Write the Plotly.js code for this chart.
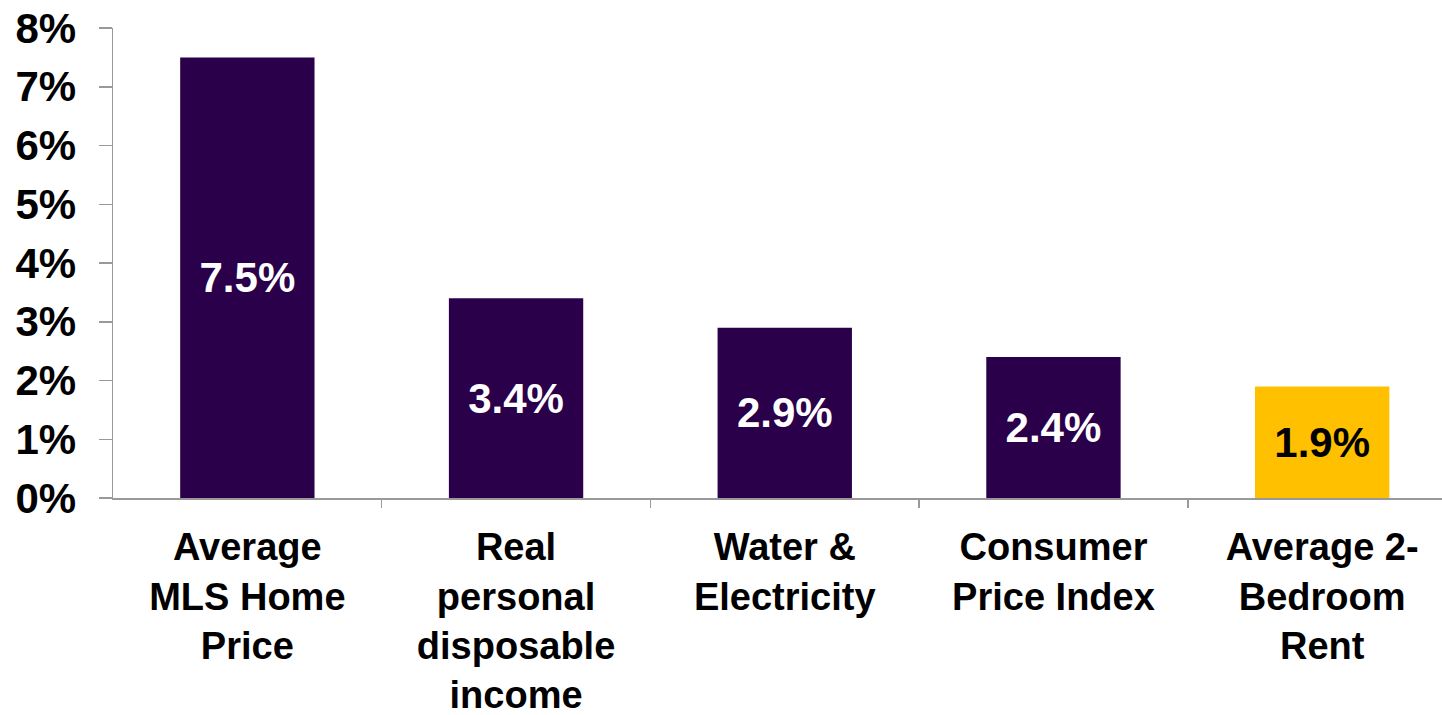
<!DOCTYPE html>
<html>
<head>
<meta charset="utf-8">
<script src="https://cdn.plot.ly/plotly-3.0.1.min.js"></script>
<style>html,body{margin:0;padding:0;background:#fff;}#chart{width:1442px;height:715px;}</style>
</head>
<body>
<div id="chart"></div>
<script>
var categories = ["Average<br>MLS Home<br>Price", "Real<br>personal<br>disposable<br>income", "Water &<br>Electricity", "Consumer<br>Price Index", "Average 2-<br>Bedroom<br>Rent"];
var values = [7.5, 3.4, 2.9, 2.4, 1.9];
var labels = ["7.5%", "3.4%", "2.9%", "2.4%", "1.9%"];
var barColors = ["#2A004A", "#2A004A", "#2A004A", "#2A004A", "#FFC000"];
var textColors = ["#FFFFFF", "#FFFFFF", "#FFFFFF", "#FFFFFF", "#000000"];
var yTickVals = [0, 1, 2, 3, 4, 5, 6, 7, 8];
var yTickText = ["0%", "1%", "2%", "3%", "4%", "5%", "6%", "7%", "8%"];

var trace = {
  type: "bar",
  x: [0, 1, 2, 3, 4],
  y: values,
  text: labels,
  textposition: "inside",
  insidetextanchor: "middle",
  textangle: 0,
  textfont: {family: "Liberation Sans, Arial, sans-serif", size: 42, color: textColors, weight: "bold"},
  marker: {color: barColors, line: {width: 0}},
  hoverinfo: "none",
  cliponaxis: false
};

var layout = {
  width: 1442, height: 715,
  margin: {l: 113, r: 0, t: 28, b: 217, autoexpand: false},
  paper_bgcolor: "#fff", plot_bgcolor: "#fff",
  showlegend: false,
  bargap: 0.5,
  font: {family: "Liberation Sans, Arial, sans-serif", color: "#000"},
  xaxis: {
    type: "linear",
    range: [-0.5, 4.446],
    tickmode: "array",
    tickvals: [0, 1, 2, 3, 4],
    ticktext: categories,
    showgrid: false, zeroline: false,
    showline: true, linecolor: "#999999", linewidth: 1.5,
    ticks: "",
    tickfont: {size: 38, color: "#000", weight: "bold"},
    ticklabelstandoff: 15,
    automargin: false
  },
  yaxis: {
    range: [0, 8],
    tickmode: "array",
    tickvals: yTickVals,
    ticktext: yTickText,
    showgrid: false, zeroline: false,
    showline: true, linecolor: "#999999", linewidth: 1.5,
    ticks: "outside", ticklen: 13, tickcolor: "#999999", tickwidth: 1.5,
    tickfont: {size: 42, color: "#000", weight: "bold"},
    ticklabelstandoff: 14,
    automargin: false
  },
  xaxis2: {
    overlaying: "x",
    matches: "x",
    range: [-0.5, 4.446],
    tickmode: "array",
    tickvals: [0.5, 1.5, 2.5, 3.5, 4.5],
    ticks: "outside", ticklen: 9, tickcolor: "#999999", tickwidth: 1.5,
    showticklabels: false, showgrid: false, zeroline: false, showline: false,
    anchor: "y", side: "bottom"
  }
};
var tickTrace = {type: "scatter", x: [], y: [], xaxis: "x2", yaxis: "y", hoverinfo: "none"};

Plotly.newPlot("chart", [trace, tickTrace], layout, {displayModeBar: false, staticPlot: true});
</script>
</body>
</html>
